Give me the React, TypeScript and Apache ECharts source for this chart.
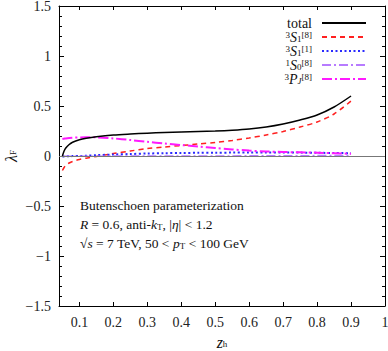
import React, { useEffect, useRef } from "react";
import * as echarts from "echarts";

const SERIF = '"Liberation Serif", "Times New Roman", serif';

const zh = [0.05, 0.055, 0.06, 0.07, 0.08, 0.1, 0.12, 0.15, 0.2, 0.25, 0.3, 0.35, 0.4, 0.45, 0.5, 0.55, 0.6, 0.65, 0.7, 0.75, 0.8, 0.85, 0.9];
const total = [0, 0.05, 0.08, 0.115, 0.138, 0.163, 0.178, 0.193, 0.21, 0.22, 0.228, 0.235, 0.24, 0.245, 0.25, 0.258, 0.27, 0.29, 0.32, 0.36, 0.41, 0.49, 0.6];
const s1oct = [-0.145, -0.115, -0.095, -0.07, -0.055, -0.035, -0.022, -0.005, 0.025, 0.05, 0.075, 0.09, 0.105, 0.12, 0.135, 0.155, 0.18, 0.21, 0.245, 0.29, 0.34, 0.42, 0.55];
const s1sing = [-0.005, -0.004, -0.003, -0.002, -0.001, 0, 0.003, 0.008, 0.015, 0.02, 0.025, 0.028, 0.03, 0.032, 0.033, 0.034, 0.035, 0.035, 0.035, 0.034, 0.032, 0.03, 0.028];
const s0oct = [-0.003, -0.003, -0.003, -0.003, -0.003, -0.002, -0.002, -0.002, -0.001, -0.001, 0, 0, 0, 0, 0.001, 0.001, 0.002, 0.002, 0.003, 0.003, 0.004, 0.005, 0.006];
const pjoct = [0.17, 0.173, 0.176, 0.18, 0.183, 0.186, 0.187, 0.186, 0.176, 0.16, 0.142, 0.125, 0.11, 0.095, 0.08, 0.066, 0.054, 0.046, 0.04, 0.037, 0.033, 0.028, 0.022];

const xTicks = [0.1, 0.2, 0.3, 0.4, 0.5, 0.6, 0.7, 0.8, 0.9, 1];
const seriesNames = ["total", "3S1[8]", "3S1[1]", "1S0[8]", "3PJ[8]"];
const legendLabels: Record<string, string> = {
  "total": "{n|total}",
  "3S1[8]": "{sup|3}{it|S}{sub|1}{sup|[8]}",
  "3S1[1]": "{sup|3}{it|S}{sub|1}{sup|[1]}",
  "1S0[8]": "{sup|1}{it|S}{sub|0}{sup|[8]}",
  "3PJ[8]": "{sup|3}{it|P}{subi|J}{sup|[8]}",
};
const noteLines = [
  "{n|Butenschoen parameterization}",
  "{it|R}{n| = 0.6, anti-}{it|k}{sub|T}{n|, |}{it|η}{n|| < 1.2}",
  "{n|√}{it|s}{n| = 7 TeV, 50 < }{it|p}{sub|T}{n| < 100 GeV}",
];

const rich = {
  n: { fontFamily: SERIF, fontSize: 14, color: "#111" },
  it: { fontFamily: SERIF, fontSize: 14, fontStyle: "italic", color: "#111" },
  big: { fontFamily: SERIF, fontSize: 16, fontStyle: "italic", color: "#111" },
  sup: { fontFamily: SERIF, fontSize: 9, padding: [0, 0, 5, 0], color: "#111" },
  sub: { fontFamily: SERIF, fontSize: 9, padding: [4, 0, 0, 0], color: "#111" },
  subi: { fontFamily: SERIF, fontSize: 9, padding: [4, 0, 0, 0], color: "#111", fontStyle: "italic" },
};

const pairs = (ys: number[]) => zh.map((x, i) => [x, ys[i]]);

export default function App() {
  const ref = useRef<HTMLDivElement>(null);
  useEffect(() => {
    document.body.style.margin = "0";
    const chart = echarts.init(ref.current!, null, { renderer: "svg" });
    const axisLine = { show: true, onZero: false, lineStyle: { color: "#000", width: 1 } };
    const noteRich = {
      ...rich,
      n: { ...rich.n, fontSize: 13.5 },
      it: { ...rich.it, fontSize: 13.5 },
      sub: { ...rich.sub, padding: [6, 0, 0, 0] },
    };
    chart.setOption({
      animation: false,
      grid: { left: 59, right: 3, top: 6, bottom: 45, outerBoundsMode: "none", containLabel: false },
      legend: {
        orient: "vertical",
        right: 16,
        top: 11,
        align: "right",
        itemWidth: 44,
        itemHeight: 12,
        itemGap: 0,
        data: seriesNames,
        itemStyle: { color: "rgba(0,0,0,0)", borderWidth: 0, opacity: 0 },
        formatter: (name: string) => legendLabels[name],
        textStyle: { fontFamily: SERIF, fontSize: 14, padding: [0, 5, 0, 0], rich },
      },
      xAxis: [
        {
          type: "value",
          min: 0.04,
          max: 1,
          position: "bottom",
          axisLine,
          splitLine: { show: false },
          axisTick: { inside: true, length: 4, customValues: xTicks, lineStyle: { color: "#000" } },
          axisLabel: {
            customValues: xTicks,
            margin: 9,
            fontFamily: SERIF,
            fontSize: 14,
            color: "#222",
            formatter: (v: number) => (v === 1 ? "1" : v.toFixed(1)),
          },
          name: "{big|z}{sub|h}",
          nameLocation: "middle",
          nameGap: 28,
          nameMoveOverlap: false,
          nameTextStyle: { rich },
        },
        {
          type: "value",
          min: 0.04,
          max: 1,
          position: "top",
          axisLine,
          splitLine: { show: false },
          axisTick: { inside: true, length: 4, customValues: xTicks, lineStyle: { color: "#000" } },
          axisLabel: { show: false },
        },
      ],
      yAxis: [
        {
          type: "value",
          min: -1.5,
          max: 1.5,
          interval: 0.5,
          position: "left",
          axisLine,
          splitLine: { show: false },
          axisTick: { inside: true, length: 5, lineStyle: { color: "#000" } },
          minorTick: { show: true, splitNumber: 5, length: 3, lineStyle: { color: "#000" } },
          axisLabel: {
            margin: 8,
            fontFamily: SERIF,
            fontSize: 14,
            color: "#222",
            formatter: (v: number) => (v < 0 ? "\u2212" + String(-v) : String(v)),
          },
          name: "{big|λ}{sub|F}",
          nameLocation: "middle",
          nameGap: 40,
          nameMoveOverlap: false,
          nameTextStyle: { rich },
        },
        {
          type: "value",
          min: -1.5,
          max: 1.5,
          interval: 0.5,
          position: "right",
          axisLine,
          splitLine: { show: false },
          axisTick: { inside: true, length: 5, lineStyle: { color: "#000" } },
          minorTick: { show: true, splitNumber: 5, length: 3, lineStyle: { color: "#000" } },
          axisLabel: { show: false },
        },
      ],
      series: [
        {
          name: "total",
          type: "line",
          data: pairs(total),
          smooth: 0.3,
          showSymbol: false,
          symbol: "none",
          lineStyle: { color: "#000", width: 1.5, type: "solid" },
          itemStyle: { color: "#000" },
          markLine: {
            silent: true,
            symbol: "none",
            label: { show: false },
            lineStyle: { color: "#777", width: 1, type: "solid" },
            data: [{ yAxis: 0 }],
          },
          z: 5,
        },
        {
          name: "3S1[8]",
          type: "line",
          data: pairs(s1oct),
          smooth: 0.3,
          symbol: "none",
          lineStyle: { color: "#ff2020", width: 1.5, type: [5, 4] },
          itemStyle: { color: "#ff2020" },
        },
        {
          name: "3S1[1]",
          type: "line",
          data: pairs(s1sing),
          smooth: 0.3,
          symbol: "none",
          lineStyle: { color: "#2a2aff", width: 2, type: [2, 2.5] },
          itemStyle: { color: "#2a2aff" },
        },
        {
          name: "1S0[8]",
          type: "line",
          data: pairs(s0oct),
          smooth: 0.3,
          symbol: "none",
          lineStyle: { color: "#b77bff", width: 1.5, type: [9, 3, 2, 3] },
          itemStyle: { color: "#b77bff" },
        },
        {
          name: "3PJ[8]",
          type: "line",
          data: pairs(pjoct),
          smooth: 0.3,
          symbol: "none",
          lineStyle: { color: "#ff1aff", width: 2, type: [10, 3, 2, 3] },
          itemStyle: { color: "#ff1aff" },
        },
      ],
      graphic: noteLines.map((t, i) => ({
        type: "text",
        left: 80,
        top: 198 + i * 19,
        style: { text: t, rich: noteRich, fontFamily: SERIF, fontSize: 13.5, fill: "#111" },
      })),
    });
    return () => chart.dispose();
  }, []);
  return <div ref={ref} style={{ width: 388, height: 351 }} />;
}
